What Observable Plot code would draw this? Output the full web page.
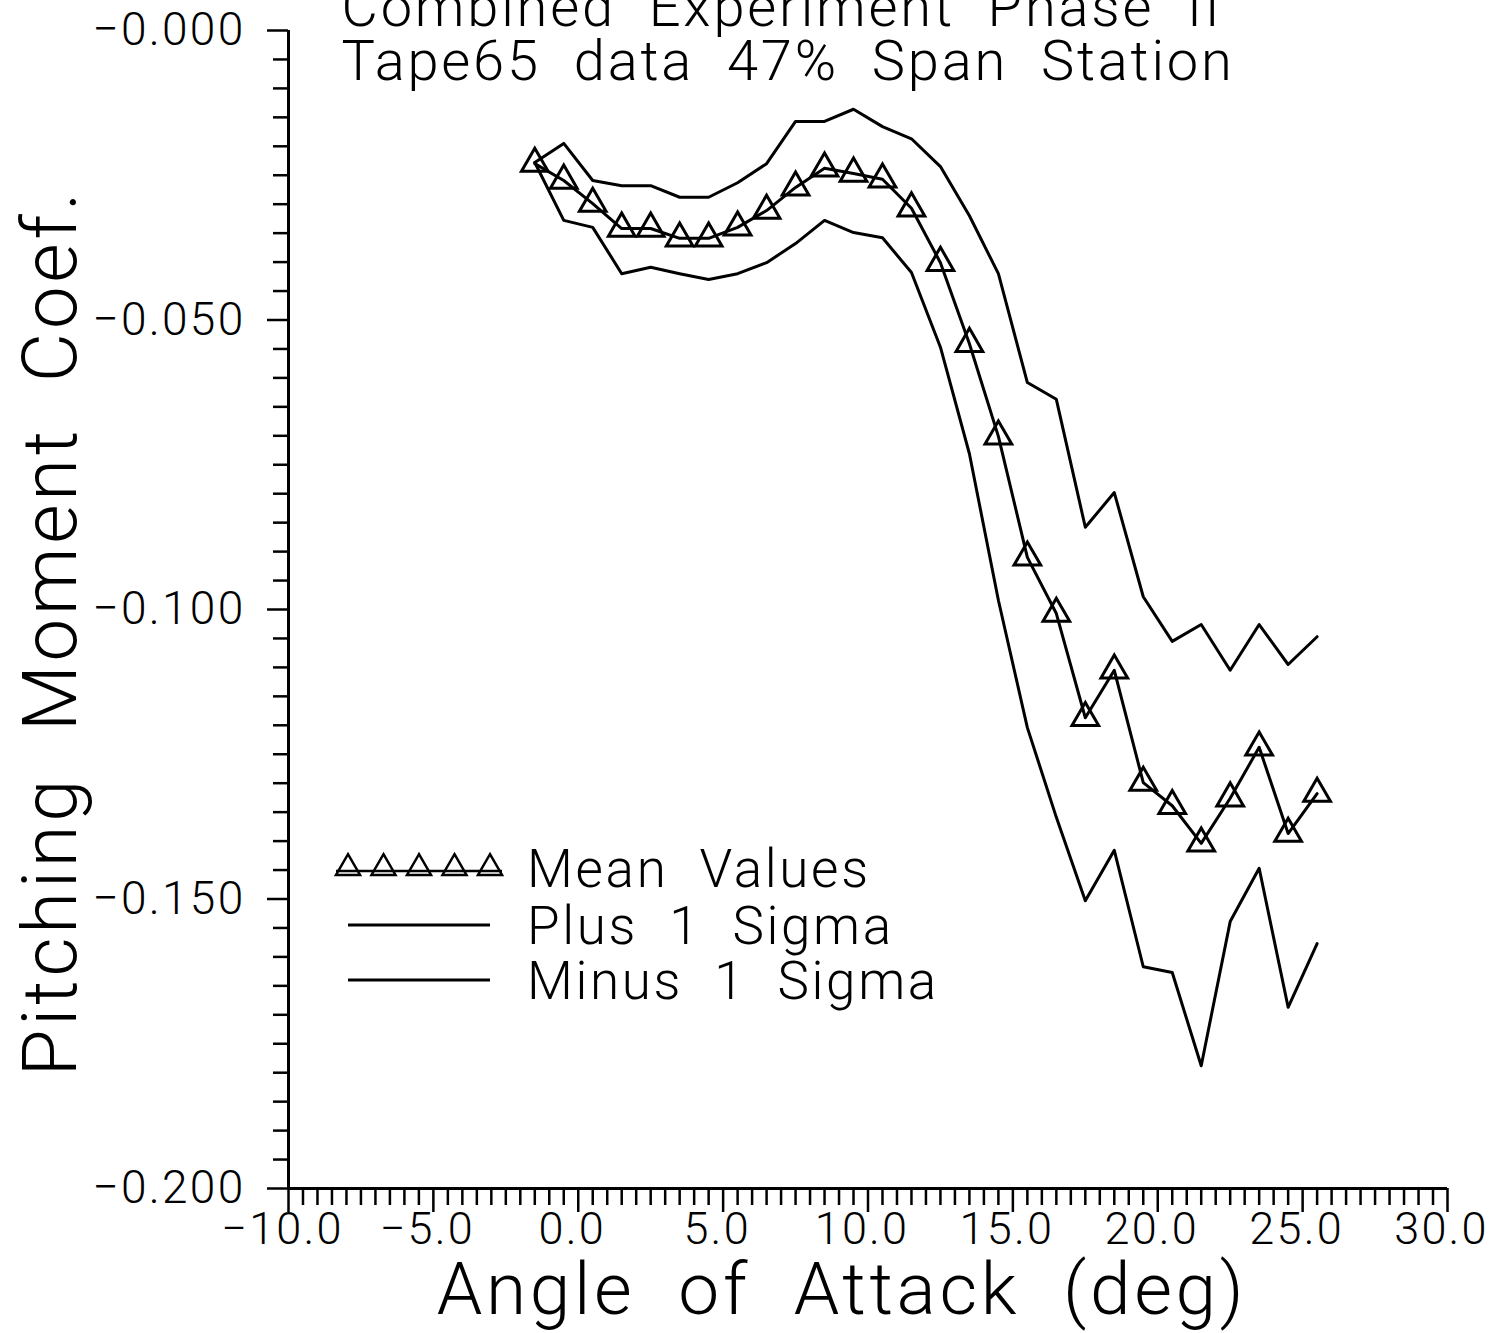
<!DOCTYPE html>
<html>
<head>
<meta charset="utf-8">
<script src="https://cdn.jsdelivr.net/npm/d3@7"></script>
<script src="https://cdn.jsdelivr.net/npm/@observablehq/plot@0.6"></script>
<style>
  html, body { margin: 0; padding: 0; background: #fff; }
  #chart svg text { white-space: pre; letter-spacing: 0.05em; font-weight: 300; }
</style>
</head>
<body>
<div id="chart"></div>
<script>
// ---- data ----
const angle = [-1.5, -0.5, 0.5, 1.5, 2.5, 3.5, 4.5, 5.5, 6.5, 7.5, 8.5, 9.5, 10.5, 11.5,
               12.5, 13.5, 14.5, 15.5, 16.5, 17.5, 18.5, 19.5, 20.5, 21.5, 22.5, 23.5, 24.5, 25.5];
const meanValues = [-0.0230, -0.0259, -0.0299, -0.0342, -0.0342, -0.0359, -0.0359, -0.0340,
                    -0.0311, -0.0271, -0.0238, -0.0247, -0.0257, -0.0307, -0.0401, -0.0541,
                    -0.0701, -0.0910, -0.1007, -0.1187, -0.1105, -0.1299, -0.1339, -0.1404,
                    -0.1326, -0.1238, -0.1387, -0.1318];
const plusSigma = [-0.0228, -0.0195, -0.0259, -0.0268, -0.0268, -0.0288, -0.0288, -0.0263,
                   -0.0230, -0.0157, -0.0157, -0.0136, -0.0166, -0.0187, -0.0235, -0.0320,
                   -0.0420, -0.0608, -0.0637, -0.0858, -0.0798, -0.0978, -0.1055, -0.1026,
                   -0.1105, -0.1026, -0.1095, -0.1047];
const minusSigma = [-0.0228, -0.0328, -0.0340, -0.0420, -0.0409, -0.0420, -0.0430, -0.0420,
                    -0.0401, -0.0368, -0.0328, -0.0349, -0.0358, -0.0418, -0.0547, -0.0731,
                    -0.0984, -0.1204, -0.1359, -0.1503, -0.1416, -0.1617, -0.1627, -0.1788,
                    -0.1539, -0.1447, -0.1687, -0.1577];

const xDomain = [-10, 30];
const yDomain = [-0.2, 0];
const xMajorTicks = [-10, -5, 0, 5, 10, 15, 20, 25, 30];
const yMajorTicks = [0, -0.05, -0.1, -0.15, -0.2];
const xMinorStep = 0.5;
const yMinorStep = 0.005;

const titleLines = ["Combined  Experiment  Phase  II", "Tape65  data  47%  Span  Station"];
const xTitle = "Angle  of  Attack  (deg)";
const yTitle = "Pitching  Moment  Coef.";
const legendLabels = ["Mean  Values", "Plus  1  Sigma", "Minus  1  Sigma"];

// ---- derived ----
const rows = angle.map((a, i) => ({angle: a, mean: meanValues[i], plus: plusSigma[i], minus: minusSigma[i]}));
const isMajorX = v => xMajorTicks.some(t => Math.abs(t - v) < 1e-9);
const isMajorY = v => yMajorTicks.some(t => Math.abs(t - v) < 1e-9);
const xMinorTicks = d3.range(xDomain[0], xDomain[1] + 1e-9, xMinorStep).filter(v => !isMajorX(v));
const yMinorTicks = d3.range(yDomain[0], yDomain[1] + 1e-9, yMinorStep).filter(v => !isMajorY(v));
const fmtX = d => (d < 0 ? "\u2212" : "") + Math.abs(d).toFixed(1);
const fmtY = d => "\u2212" + Math.abs(d).toFixed(3);

const FONT = "Roboto, 'Liberation Sans', Arial, sans-serif";
const xMin = xDomain[0], yMin = yDomain[0];

const chart = Plot.plot({
  width: 1491,
  height: 1333,
  marginLeft: 288,
  marginRight: 44,
  marginTop: 30,
  marginBottom: 145,
  style: {fontFamily: FONT, fontSize: "46px", color: "black", background: "white", overflow: "visible"},
  x: {domain: xDomain, axis: null},
  y: {domain: yDomain, axis: null},
  marks: [
    // axis lines
    Plot.ruleY([yMin], {stroke: "black", strokeWidth: 3}),
    Plot.ruleX([xMin], {stroke: "black", strokeWidth: 3}),
    // x ticks
    Plot.ruleX(xMinorTicks, {x: d => d, y1: yMin, y2: yMin, insetBottom: -17, stroke: "black", strokeWidth: 2.5}),
    Plot.ruleX(xMajorTicks, {x: d => d, y1: yMin, y2: yMin, insetBottom: -24, stroke: "black", strokeWidth: 2.5}),
    Plot.text(xMajorTicks, {x: d => d, y: yMin, text: fmtX, dx: -6, dy: 24, lineAnchor: "top", fontSize: 45, fill: "black"}),
    // y ticks
    Plot.ruleY(yMinorTicks, {y: d => d, x1: xMin, x2: xMin, insetLeft: -15, stroke: "black", strokeWidth: 2.5}),
    Plot.ruleY(yMajorTicks, {y: d => d, x1: xMin, x2: xMin, insetLeft: -21, stroke: "black", strokeWidth: 2.5}),
    Plot.text(yMajorTicks, {x: xMin, y: d => d, text: fmtY, dx: -43, textAnchor: "end", fontSize: 46, fill: "black"}),
    // titles
    Plot.text([titleLines[0]], {frameAnchor: "top-left", dx: 53, dy: -5, lineAnchor: "bottom", textAnchor: "start", fontSize: 56, fill: "black"}),
    Plot.text([titleLines[1]], {frameAnchor: "top-left", dx: 53, dy: 49, lineAnchor: "bottom", textAnchor: "start", fontSize: 56, fill: "black"}),
    Plot.text([xTitle], {frameAnchor: "bottom", dx: -26, dy: 125, lineAnchor: "bottom", textAnchor: "middle", fontSize: 73, fill: "black"}),
    Plot.text([yTitle], {frameAnchor: "left", dx: -213, dy: 23, rotate: -90, lineAnchor: "bottom", textAnchor: "middle", fontSize: 76, fill: "black"}),
    // data
    Plot.line(rows, {x: "angle", y: "plus", stroke: "black", strokeWidth: 3}),
    Plot.line(rows, {x: "angle", y: "minus", stroke: "black", strokeWidth: 3}),
    Plot.line(rows, {x: "angle", y: "mean", stroke: "black", strokeWidth: 3}),
    Plot.dot(rows, {x: "angle", y: "mean", symbol: "triangle", r: 9.9, stroke: "black", strokeWidth: 3, fill: "none"})
  ]
});

document.getElementById("chart").appendChild(chart);

// ---- legend ----
const svg = d3.select(chart);
const lg = svg.append("g").attr("aria-label", "legend")
  .attr("font-family", FONT).attr("font-size", 53).attr("fill", "black").attr("text-anchor", "start");
const legX0 = 348, legX1 = 490, textX = 527;
const rowY = [868, 925, 980];
lg.append("line").attr("x1", legX0 - 12).attr("x2", legX1 + 12).attr("y1", rowY[0] + 3).attr("y2", rowY[0] + 3)
  .attr("stroke", "black").attr("stroke-width", 2.5);
d3.range(5).forEach(k => {
  lg.append("path")
    .attr("d", d3.symbol(d3.symbolTriangle, 250)())
    .attr("transform", `translate(${legX0 + k * (legX1 - legX0) / 4},${rowY[0]})`)
    .attr("fill", "none").attr("stroke", "black").attr("stroke-width", 2.5);
});
[1, 2].forEach(k => {
  lg.append("line").attr("x1", legX0).attr("x2", legX1).attr("y1", rowY[k]).attr("y2", rowY[k])
    .attr("stroke", "black").attr("stroke-width", 3);
});
legendLabels.forEach((t, k) => {
  lg.append("text").attr("x", textX).attr("y", rowY[k] + 19).attr("text-anchor", "start").text(t);
});
</script>
</body>
</html>
